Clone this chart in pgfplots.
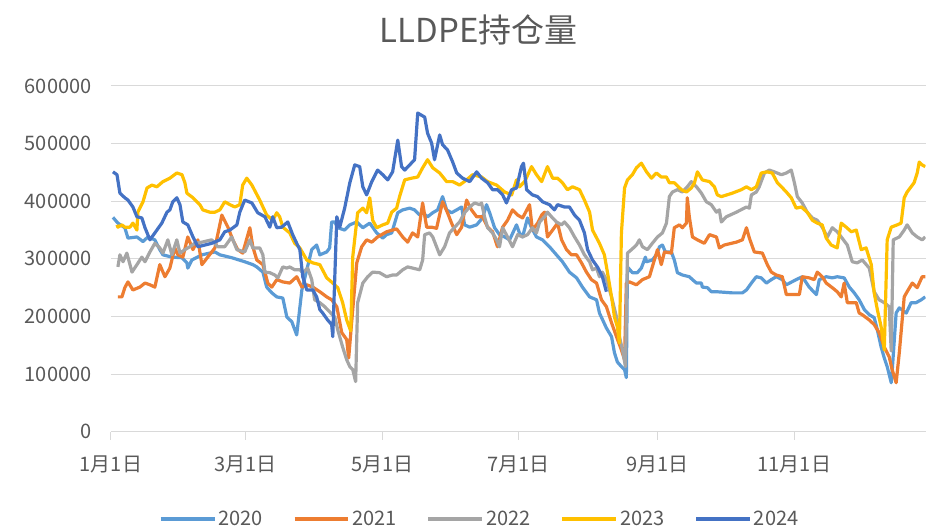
\documentclass[border=0pt]{standalone}
\usepackage{fontspec}
\setmainfont{Noto Sans CJK SC}
\usepackage{pgfplots}
\pgfplotsset{compat=1.18}
\definecolor{cA}{HTML}{5B9BD5}
\definecolor{cB}{HTML}{ED7D31}
\definecolor{cC}{HTML}{A5A5A5}
\definecolor{cD}{HTML}{FFC000}
\definecolor{cE}{HTML}{4472C4}
\definecolor{txt}{HTML}{595959}
\definecolor{gridc}{HTML}{D9D9D9}
\begin{document}
\begin{tikzpicture}
\path (-111pt,-97pt) rectangle (815pt,432pt);
\begin{axis}[
  at={(0pt,0pt)}, anchor=south west,
  scale only axis, width=815pt, height=346pt,
  xmin=0, xmax=363.5, ymin=0, ymax=600000,
  xtick={0,60,121,182,244,305},
  xticklabels={1月1日,3月1日,5月1日,7月1日,9月1日,11月1日},
  ytick={0,100000,200000,300000,400000,500000,600000},
  scaled y ticks=false,
  yticklabel style={/pgf/number format/fixed,/pgf/number format/1000 sep={},/pgf/number format/assume math mode=true,xshift=-8pt},
  xticklabel style={yshift=-12pt},
  font=\fontsize{20}{24}\selectfont,
  tick label style={text=txt},
  ymajorgrids, grid style={draw=gridc, line width=1pt},
  axis line style={draw=none},
  xtick pos=left, ytick pos=left,
  tick align=outside, major tick length=8pt,
  xtick style={draw=gridc, line width=1pt},
  ytick style={draw=none},
  clip=true,
  every axis plot/.append style={line width=3.2pt, line join=round, mark=none},
  legend columns=-1,
  legend style={at={(0.4525,-0.2514)}, anchor=center, draw=none, fill=none,
    font=\fontsize{20}{24}\selectfont, text=txt,
    /tikz/every even column/.append style={column sep=27.5pt}},
  legend image code/.code={\draw[#1, line width=4pt] (0pt,0pt) -- (54pt,0pt);},
]
\addplot[cA] table {
0.9 372000
3.1 362000
6.2 354000
7.6 336000
11.6 338000
14.3 330000
16.5 338000
19.6 333000
21.8 316000
23.2 307000
27.2 303000
31.7 302000
33.9 293000
34.3 284000
36.1 298000
40.6 307000
46.4 312000
48.6 307000
53.9 302000
59.7 295000
63.3 290000
65.1 286000
67.8 277000
69.5 251000
71.8 241000
74.0 234000
76.7 232000
78.5 199000
80.7 191000
82.9 168000
85.2 246000
87.4 281000
89.6 316000
91.8 324000
93.2 307000
96.3 312000
97.6 319000
98.5 364000
99.9 364000
101.2 354000
104.3 350000
106.6 359000
109.7 364000
112.4 354000
115.5 362000
118.6 345000
121.3 336000
123.0 342000
125.3 345000
128.0 380000
130.2 385000
133.3 388000
135.5 385000
137.8 376000
139.1 380000
141.3 373000
143.6 380000
145.8 385000
148.0 408000
149.8 385000
152.0 380000
154.3 385000
156.5 390000
157.8 359000
160.1 355000
163.2 359000
165.8 371000
167.6 394000
169.0 380000
171.2 354000
173.4 342000
175.7 338000
177.9 333000
181.0 359000
182.3 345000
183.7 338000
185.9 371000
187.7 354000
189.9 338000
192.6 333000
195.7 321000
198.8 307000
201.5 295000
204.6 277000
207.8 267000
210.4 251000
213.6 234000
216.7 229000
218.0 206000
221.1 180000
223.4 165000
224.7 137000
226.0 121000
227.8 113000
229.2 108000
230.0 94000
230.5 286000
232.7 276000
234.9 276000
236.7 284000
238.5 303000
239.0 295000
241.6 298000
243.4 307000
244.8 321000
246.1 324000
247.4 312000
250.1 312000
251.4 298000
252.8 276000
255.0 272000
258.1 269000
259.5 264000
261.3 258000
263.5 258000
263.9 251000
266.2 250000
267.9 243000
270.2 243000
277.3 241000
281.8 241000
283.6 246000
285.8 258000
288.0 269000
290.2 267000
292.5 258000
294.7 264000
296.9 269000
299.6 264000
301.4 255000
305.8 264000
308.5 269000
311.6 251000
314.8 238000
316.1 264000
319.2 269000
321.9 267000
324.1 269000
327.2 267000
329.5 251000
331.7 241000
333.9 229000
336.2 212000
338.4 203000
340.6 198000
342.0 177000
343.7 147000
345.1 128000
346.4 113000
348.2 85000
348.6 104000
350.4 206000
351.8 215000
354.9 206000
357.1 224000
359.3 224000
361.6 229000
363.4 234000
};
\addlegendentry{2020}
\addplot[cB] table {
3.1 234000
4.9 234000
6.2 250000
7.6 260000
9.8 246000
12.9 251000
15.2 258000
17.4 255000
19.6 251000
21.8 290000
24.1 269000
26.3 284000
28.5 319000
29.9 307000
32.1 303000
34.3 338000
36.6 316000
38.8 333000
40.6 290000
43.2 303000
46.4 319000
49.5 376000
52.2 355000
54.4 333000
56.6 316000
58.8 310000
62.0 354000
63.3 321000
65.1 298000
67.8 290000
70.0 258000
71.8 251000
74.0 264000
76.7 260000
79.8 258000
82.9 269000
85.2 251000
87.4 255000
90.1 251000
93.2 243000
96.3 234000
98.5 229000
100.8 217000
103.0 172000
105.2 160000
106.1 128000
107.4 189000
109.7 293000
111.9 321000
114.1 333000
116.4 329000
119.0 338000
123.0 347000
125.7 350000
127.5 352000
130.2 338000
132.4 329000
134.6 345000
136.9 338000
139.1 397000
140.9 355000
143.1 355000
145.3 353000
148.0 399000
150.2 380000
152.0 362000
154.3 342000
156.5 355000
158.7 402000
160.9 385000
163.2 373000
165.8 373000
168.1 355000
170.3 347000
172.5 321000
174.8 355000
177.0 367000
179.2 385000
181.5 376000
183.7 371000
186.8 394000
188.1 350000
190.4 362000
192.2 376000
193.5 381000
194.8 338000
197.1 350000
199.3 362000
201.1 333000
203.3 316000
205.5 307000
207.8 307000
210.0 293000
212.2 277000
214.4 264000
216.7 258000
218.9 229000
221.1 217000
223.4 189000
225.6 165000
227.8 142000
229.2 125000
230.0 258000
231.4 260000
234.5 255000
237.2 264000
240.3 269000
242.5 298000
243.9 316000
245.6 290000
247.0 312000
250.1 310000
251.4 354000
253.7 359000
255.0 354000
256.8 362000
257.2 406000
258.1 373000
259.5 338000
261.7 333000
264.8 327000
267.1 342000
270.2 338000
271.5 319000
273.7 324000
279.1 329000
281.8 333000
283.6 354000
284.9 336000
287.1 312000
290.7 310000
292.9 290000
294.7 277000
296.9 272000
299.6 269000
301.4 238000
307.2 238000
308.5 269000
311.6 267000
313.9 264000
315.2 277000
317.4 269000
319.2 258000
321.9 250000
324.1 243000
325.9 234000
327.2 258000
328.6 224000
332.6 224000
333.9 206000
335.3 203000
338.4 194000
340.6 186000
342.8 172000
345.1 147000
347.3 130000
348.6 108000
350.4 85000
351.8 137000
354.0 234000
355.3 243000
357.6 258000
359.8 250000
362.0 269000
363.4 269000
};
\addlegendentry{2021}
\addplot[cC] table {
3.1 286000
4.0 307000
5.4 295000
7.1 310000
9.4 277000
11.6 290000
13.8 303000
15.2 295000
17.4 312000
19.6 327000
21.8 319000
23.2 310000
25.4 333000
27.2 307000
29.4 333000
30.8 310000
33.0 316000
35.2 321000
37.4 327000
40.6 329000
45.0 333000
47.7 321000
50.8 321000
53.9 338000
56.2 316000
59.7 312000
62.0 333000
63.3 319000
66.4 319000
67.8 307000
68.7 277000
70.9 276000
73.1 272000
74.5 267000
76.7 286000
78.5 284000
79.8 286000
82.0 281000
84.3 281000
85.6 276000
87.8 284000
89.6 264000
90.9 229000
93.2 224000
95.4 217000
97.6 208000
99.9 199000
101.2 177000
103.4 147000
105.2 125000
106.6 113000
107.9 108000
109.2 87000
110.1 224000
112.4 258000
114.6 269000
116.8 277000
119.9 276000
123.0 269000
125.7 272000
127.5 272000
130.2 281000
132.4 286000
134.6 284000
137.8 281000
139.1 298000
140.0 342000
142.2 345000
143.6 338000
145.3 321000
146.7 307000
148.9 321000
151.1 345000
153.4 355000
155.6 364000
157.8 380000
160.1 390000
162.3 397000
164.5 394000
165.4 397000
166.7 373000
168.1 354000
170.3 345000
172.1 333000
173.4 321000
174.8 354000
177.0 338000
179.2 321000
181.5 342000
183.7 338000
185.9 342000
188.1 354000
189.9 345000
191.3 364000
193.5 373000
194.8 381000
196.6 373000
198.8 364000
201.1 359000
202.4 364000
204.6 354000
206.9 338000
209.1 324000
211.3 307000
213.6 295000
214.9 281000
216.7 284000
218.0 269000
219.3 277000
221.1 264000
223.4 234000
225.6 199000
226.9 165000
228.3 142000
229.6 113000
230.5 310000
232.3 316000
234.5 324000
235.8 333000
237.2 321000
239.4 316000
241.6 327000
243.9 338000
246.1 345000
247.9 362000
249.2 408000
250.6 416000
252.8 420000
255.0 416000
257.2 425000
259.0 434000
261.3 425000
263.5 414000
265.7 399000
267.9 394000
270.2 381000
271.5 385000
272.4 364000
274.6 373000
279.1 381000
283.6 390000
284.9 388000
285.8 411000
288.0 416000
289.3 425000
291.6 449000
293.8 454000
296.0 451000
299.2 446000
301.4 449000
303.6 454000
305.0 432000
306.3 408000
308.5 397000
310.7 381000
313.0 371000
315.2 367000
317.4 355000
319.7 338000
321.9 354000
324.1 347000
326.3 336000
328.6 324000
330.8 295000
333.0 293000
335.3 298000
338.4 284000
340.6 243000
342.8 229000
345.1 224000
347.3 217000
348.2 140000
349.1 333000
351.8 338000
354.0 350000
355.3 359000
357.6 345000
359.8 338000
362.0 333000
363.4 338000
};
\addlegendentry{2022}
\addplot[cD] table {
2.7 359000
3.1 355000
4.9 359000
6.2 355000
8.5 355000
9.8 362000
11.6 350000
12.0 381000
14.3 399000
16.1 423000
18.3 428000
20.5 425000
23.2 434000
26.3 440000
29.4 449000
31.7 446000
33.0 432000
33.9 414000
36.6 406000
39.7 394000
41.0 385000
44.1 381000
46.4 381000
48.6 385000
50.8 399000
53.1 394000
55.3 390000
57.5 394000
58.8 428000
60.6 440000
62.9 428000
66.4 402000
69.5 376000
72.2 367000
74.0 380000
75.3 373000
76.7 355000
79.8 345000
82.0 327000
84.3 319000
87.4 298000
90.1 293000
93.2 290000
96.3 267000
99.0 258000
101.2 250000
103.4 224000
105.2 194000
107.0 175000
107.9 303000
110.1 380000
112.4 388000
114.1 380000
115.5 406000
116.8 367000
118.6 354000
121.3 359000
123.5 362000
125.3 381000
127.5 388000
128.8 408000
131.1 437000
134.2 440000
136.9 442000
139.1 458000
141.3 472000
143.6 458000
146.7 449000
149.8 434000
152.5 434000
155.6 428000
158.7 437000
161.4 446000
165.4 442000
168.1 434000
172.1 428000
175.7 416000
178.8 411000
181.0 437000
182.3 425000
184.6 434000
187.7 460000
189.9 446000
192.2 434000
194.8 460000
197.1 440000
199.3 440000
201.5 432000
203.7 420000
206.0 425000
209.1 420000
211.3 402000
213.6 381000
214.9 350000
218.0 327000
220.2 307000
221.6 276000
223.4 234000
224.7 199000
226.0 182000
226.9 154000
227.8 345000
228.3 373000
229.2 423000
230.5 437000
232.7 446000
234.5 458000
236.7 466000
239.0 451000
241.2 440000
243.4 449000
245.6 442000
247.9 442000
249.2 432000
251.4 432000
254.6 420000
256.8 416000
259.0 423000
260.4 432000
261.7 451000
263.9 437000
267.1 434000
269.3 425000
270.6 411000
272.4 408000
277.3 414000
281.3 420000
283.6 425000
285.8 420000
288.0 425000
290.2 449000
292.9 451000
295.1 449000
297.4 432000
299.2 425000
301.4 416000
303.6 406000
305.8 388000
308.1 390000
310.7 381000
313.0 367000
315.2 362000
317.4 359000
319.2 336000
321.4 324000
324.1 319000
325.9 362000
328.1 355000
330.4 347000
332.6 350000
334.8 316000
337.0 319000
339.3 290000
340.6 241000
342.0 212000
343.7 182000
345.1 142000
346.4 333000
348.2 355000
350.9 359000
352.6 362000
354.0 406000
355.3 416000
358.4 432000
359.8 449000
360.7 468000
362.0 463000
363.4 460000
};
\addlegendentry{2023}
\addplot[cE] table {
0.9 451000
2.7 446000
4.0 414000
6.2 406000
7.6 402000
9.8 390000
11.6 373000
13.8 371000
15.2 354000
17.4 333000
19.6 345000
22.7 362000
25.0 381000
26.3 385000
27.6 399000
29.4 406000
30.8 394000
32.1 364000
34.3 359000
36.6 338000
38.8 321000
41.9 324000
45.0 327000
48.6 333000
50.8 347000
53.1 350000
56.2 359000
57.5 381000
59.7 402000
62.9 397000
65.5 380000
68.7 373000
70.9 355000
72.2 373000
74.0 354000
76.2 355000
78.9 364000
81.1 342000
82.9 327000
84.3 316000
85.6 269000
87.4 246000
90.1 246000
91.8 234000
93.2 212000
94.5 206000
96.7 194000
98.5 186000
99.0 165000
100.8 373000
102.1 355000
104.3 388000
106.6 432000
108.8 463000
111.0 460000
112.4 425000
114.1 411000
116.4 434000
119.0 454000
121.3 446000
123.5 437000
125.7 451000
128.0 506000
129.7 460000
131.1 454000
133.3 463000
135.5 472000
136.9 553000
140.0 546000
141.3 518000
143.1 501000
144.4 472000
146.7 515000
148.0 498000
150.2 489000
152.5 468000
154.3 449000
156.9 440000
160.1 434000
163.2 451000
165.4 440000
168.1 432000
170.3 420000
172.5 420000
174.8 411000
176.5 397000
178.8 420000
181.0 423000
183.2 460000
184.1 466000
185.5 420000
188.1 411000
190.4 408000
192.6 399000
195.7 394000
197.9 385000
199.3 394000
202.4 390000
204.6 390000
206.9 376000
209.1 367000
211.3 345000
212.7 316000
214.9 298000
217.1 286000
219.3 269000
221.1 243000
};
\addlegendentry{2024}
\end{axis}
\node[font=\fontsize{33}{38}\selectfont, text=txt] at (368pt,402pt) {LLDPE持仓量};
\end{tikzpicture}
\end{document}
